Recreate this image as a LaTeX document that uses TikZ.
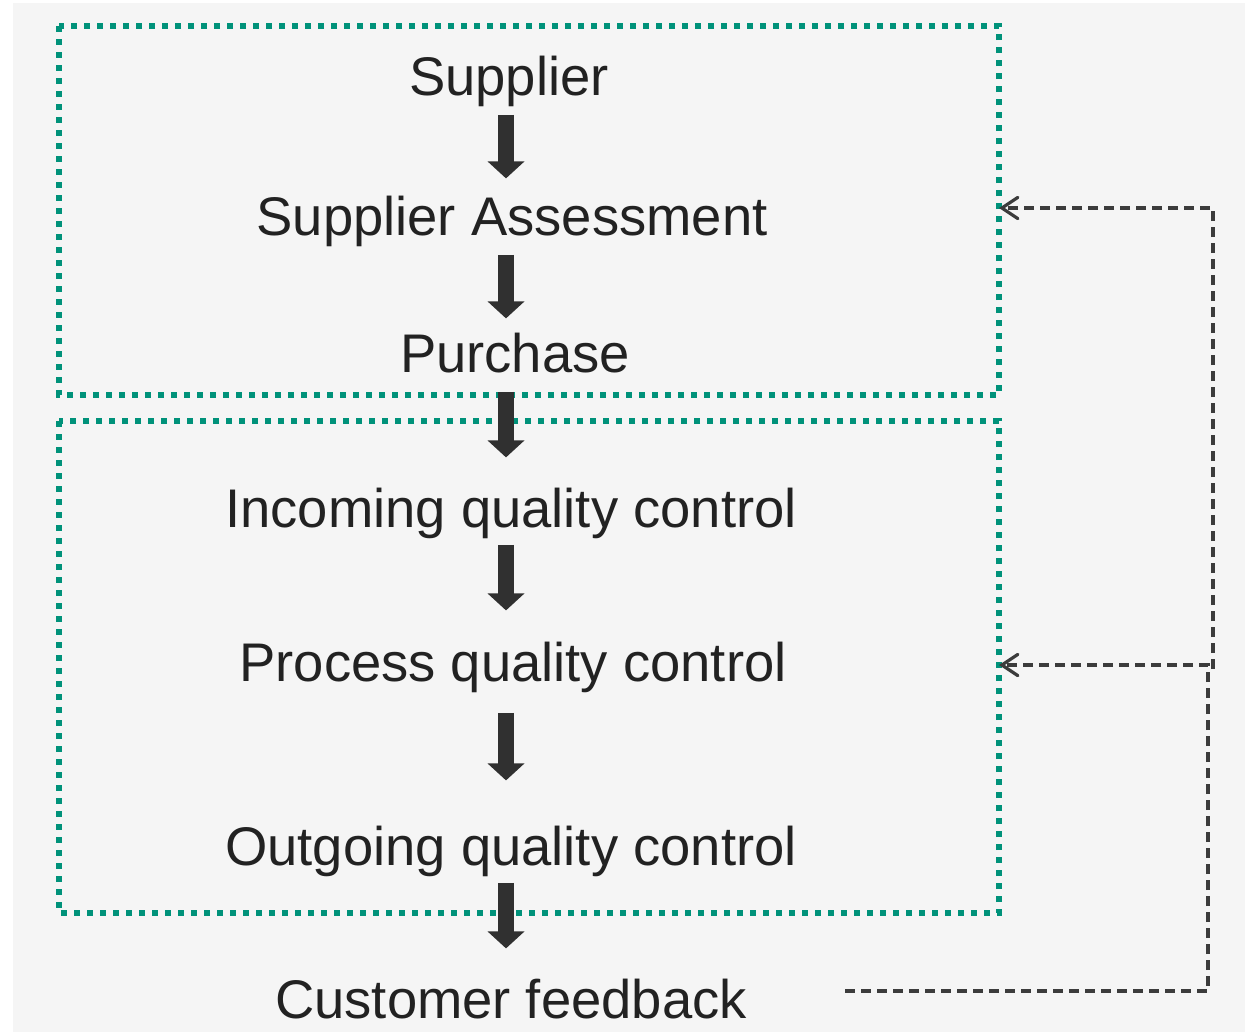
\documentclass[tikz,border=0pt]{standalone}
\usepackage{fontspec}
\setmainfont{Liberation Sans}
\usetikzlibrary{arrows.meta}
\definecolor{boxteal}{RGB}{0,146,122}
\definecolor{bggray}{RGB}{245,245,245}
\definecolor{inkdark}{RGB}{34,34,34}
\definecolor{arrowdark}{RGB}{48,48,48}
\definecolor{loopgray}{RGB}{60,60,60}
\tikzset{
  steptext/.style={anchor=base, inner sep=0pt, text height=28pt, text depth=8pt,
    text=inkdark, font=\fontsize{40.8}{48}\selectfont},
  bigarrow/.style={draw=arrowdark, line width=12pt, line cap=butt,
    -{Triangle[length=12.75pt,width=27pt]}},
  groupbox/.style={draw=boxteal, line width=4.2pt, line cap=butt, dash pattern=on 4.2pt off 5.55pt},
  loopline/.style={draw=loopgray, line width=2.4pt, line cap=butt, dash pattern=on 7.5pt off 4.5pt,
    -{Straight Barb[length=12pt,width=16pt,line cap=round]}}
}
\begin{document}
\begin{tikzpicture}[line join=miter,x=0.75pt,y=-0.75pt]
\useasboundingbox (0,0) rectangle (1245,1032);
\fill[white] (0,0) rectangle (1245,1032);
\fill[bggray] (13,3) rectangle (1245,1032);
% the two groups
\draw[groupbox] (59,26) rectangle (999,395);
\draw[groupbox] (59,421) rectangle (999,913);
% steps
\node[steptext] (sup) at (509,95) {Supplier};
\node[steptext] (assess) at (512,235) {Supplier Assessment};
\node[steptext] (purch) at (515,372) {Purchase};
\node[steptext] (iqc) at (511,527) {Incoming quality control};
\node[steptext] (pqc) at (513,681) {Process quality control};
\node[steptext] (oqc) at (511,865) {Outgoing quality control};
\node[steptext] (cust) at (511,1018) {Customer feedback};
\coordinate (axis) at (506,0);
\draw[bigarrow, shorten <=6.75pt, shorten >=14.25pt] (sup.south -| axis) -- (assess.north -| axis);
\draw[bigarrow, shorten <=6.75pt, shorten >=12pt] (assess.south -| axis) -- (purch.north -| axis);
\draw[bigarrow, shorten <=6.75pt, shorten >=24pt] (purch.south -| axis) -- (iqc.north -| axis);
\draw[bigarrow, shorten <=5.25pt, shorten >=24.75pt] (iqc.south -| axis) -- (pqc.north -| axis);
\draw[bigarrow, shorten <=15.75pt, shorten >=35.25pt] (pqc.south -| axis) -- (oqc.north -| axis);
\draw[bigarrow, shorten <=5.25pt, shorten >=24pt] (oqc.south -| axis) -- (cust.north -| axis);
% feedback loop
\coordinate (fbstart) at (845,991);
\coordinate (fbcorner) at (1208,991);
\coordinate (topin) at (999,208);
\coordinate (botin) at (999,665);
\draw[loopline] (fbstart) -- (fbcorner) -- (fbcorner |- botin) -- (botin);
\draw[loopline] (1213,669) -- (1213,208) -- (topin);
\end{tikzpicture}
\end{document}
